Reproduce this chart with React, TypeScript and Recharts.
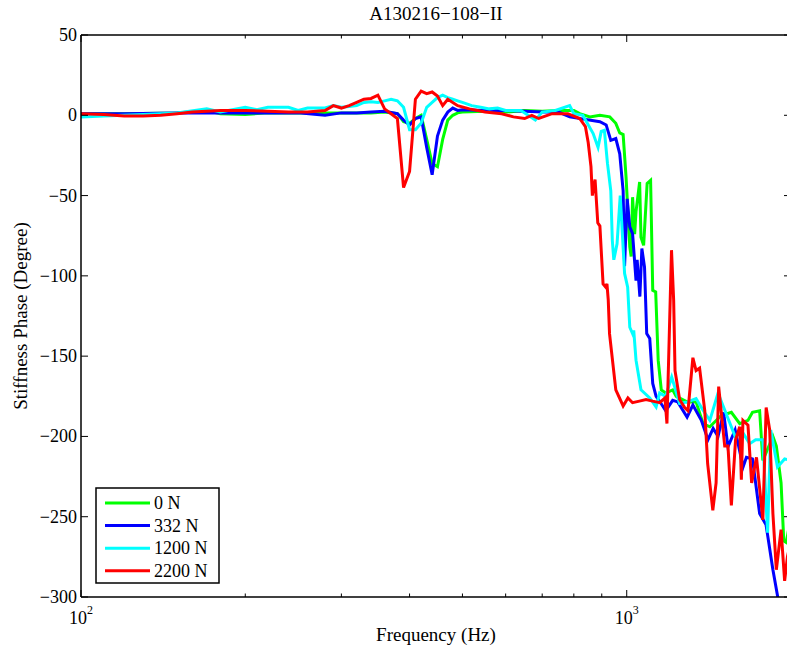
import React from 'react';
import { LineChart, Line, XAxis, YAxis, Legend } from 'recharts';

const FONT = '"Liberation Serif", "Times New Roman", serif';

// 0 N
const greenFreq = [100, 120, 150, 170, 180, 200, 220, 250, 280, 300, 320, 340, 360, 380, 390, 400, 410, 420, 430, 440, 450, 460, 470, 480, 490, 500, 550, 600, 650, 700, 750, 800, 820, 856, 893, 931, 955, 971, 985, 997, 1013, 1019, 1025, 1034, 1040, 1056, 1062, 1074, 1090, 1106, 1116, 1130, 1142, 1157, 1179, 1214, 1232, 1290, 1340, 1380, 1420, 1490, 1555, 1611, 1668, 1700, 1752, 1776, 1853, 1880, 1918, 1940, 1960, 2000];
const greenPhase = [1, 1, 1.5, 3, 1, 0.5, 1.5, 1.5, 1.5, 1.5, 1.5, 1.5, 2, 1, -4, -5, -2, 0, -15, -30, -32, -15, -3, 0, 1.5, 2, 2.5, 2, 3, 2.5, 3, 3, 1, -1, 0, -1, -5, -11, -12, -38, -82, -88, -51, -74, -60, -41.5, -76, -81, -42.5, -40.5, -109, -110, -152.5, -171, -173, -171, -175, -178.5, -178.5, -192, -194, -187, -185, -192, -190, -185, -184, -215, -200, -206, -229, -265, -266, -250];

// 332 N
const blueFreq = [100, 120, 150, 200, 250, 280, 300, 320, 340, 360, 380, 390, 400, 410, 420, 430, 440, 450, 460, 470, 480, 490, 500, 550, 600, 650, 700, 750, 786, 893, 917, 935, 955, 971, 985, 991, 1002, 1013, 1025, 1040, 1045, 1057, 1066, 1078, 1088, 1102, 1116, 1132, 1156, 1179, 1214, 1240, 1290, 1322, 1370, 1409, 1440, 1470, 1505, 1533, 1580, 1634, 1657, 1700, 1752, 1800, 1853, 1889, 1910];
const bluePhase = [1, 1, 1.5, 1.5, 1.5, 0, 1.5, 1.5, 2, 2.5, 1, -3, -6, -2, -1, -20, -37, -13, -3, 2, 4.5, 3, 3.5, 3, 3, 2.5, 2, 2, -1, -4, -6, -15.6, -14.5, -24, -47, -94, -52, -69.5, -73.7, -103, -90, -113, -83, -94.5, -136, -139, -167, -175, -179.5, -184, -177.5, -178.5, -188, -180.5, -190, -202, -195, -200, -185, -206.5, -196, -219, -213, -214, -248, -255, -283, -299, -310];

// 1200 N
const cyanFreq = [100, 110, 130, 150, 170, 180, 200, 210, 220, 240, 250, 260, 280, 290, 300, 310, 320, 330, 340, 350, 360, 370, 380, 390, 400, 410, 420, 430, 440, 450, 460, 470, 480, 490, 500, 520, 540, 560, 580, 600, 640, 680, 700, 740, 786, 800, 831, 868, 886, 898, 910, 922, 935, 941, 947, 960, 973, 991, 1004, 1013, 1025, 1030, 1040, 1062, 1102, 1132, 1149, 1179, 1209, 1219, 1250, 1293, 1340, 1380, 1420, 1470, 1522, 1580, 1634, 1680, 1723, 1776, 1812, 1836, 1889, 1947, 2000];
const cyanPhase = [-1, -0.5, 0.5, 1.5, 4, 2, 5, 3.5, 5, 5, 3, 4.5, 4.5, 6, 5, 5.5, 6, 8, 8.5, 8, 9, 10, 9, 5, -9, -9, -5, 5, 8, 11, 12.5, 11, 10, 9, 8, 6, 5, 4, 4.5, 3, 3, -3, 2, 3, 6, 1, 0, -11.4, -20, -10, -9.3, -30, -47, -78, -90, -80, -50, -98.5, -107, -132, -136, -134, -152.5, -171, -176, -181.6, -173, -175, -163, -167, -179.5, -178.5, -176.4, -183.7, -190, -173, -186, -200, -198, -204.5, -202, -202, -260, -196, -219, -214, -215];

// 2200 N
const redFreq = [100, 110, 120, 130, 140, 150, 160, 170, 180, 190, 200, 220, 240, 260, 280, 290, 300, 310, 320, 330, 340, 350, 360, 370, 380, 390, 400, 410, 420, 430, 440, 450, 460, 470, 490, 515, 550, 590, 620, 650, 670, 690, 730, 780, 820, 840, 850, 860, 865, 875, 885, 893, 905, 915, 920, 925, 930, 955, 985, 1005, 1025, 1055, 1085, 1115, 1150, 1175, 1185, 1208, 1219, 1226, 1250, 1277, 1295, 1322, 1340, 1360, 1390, 1407, 1438, 1458, 1474, 1512, 1533, 1555, 1583, 1611, 1622, 1633, 1668, 1694, 1729, 1776, 1801, 1828, 1853, 1880, 1918, 1947, 1970, 2000];
const redPhase = [1, 0.5, -0.5, -0.5, 0, 1, 2, 2.5, 3, 3, 3, 2.5, 2, 2, 3, 6, 4.5, 6, 8, 10, 10.5, 12.5, 4, 1, -2, -45, -35, 10, 15, 13.5, 14.5, 12, 6, 10, 6, 4, 2, 1, -1, -2, 0, -2, 1, 1, -2, -7, -17, -32, -50, -40, -67, -69, -105, -107, -105, -115, -136, -171, -181, -176, -179, -178, -177, -178, -179, -176, -192, -84, -115, -159, -177, -182, -184, -151, -159, -157.5, -184, -217, -246, -229, -169, -206, -206, -243, -202, -194, -227, -190, -193, -229, -213, -252, -182, -196, -248, -283, -258, -290, -275, -265];

const xTicks = [100, 200, 300, 400, 500, 600, 700, 800, 900, 1000, 2000];
const yTicks = [-300, -250, -200, -150, -100, -50, 0, 50];

const series = [
  { name: '0 N', color: '#00ff00', freq: greenFreq, phase: greenPhase },
  { name: '332 N', color: '#0000ff', freq: blueFreq, phase: bluePhase },
  { name: '1200 N', color: '#00ffff', freq: cyanFreq, phase: cyanPhase },
  { name: '2200 N', color: '#ff0000', freq: redFreq, phase: redPhase },
];

const isMajor = (v: number) => v === 100 || v === 1000;

const BottomTick = (props: any) => {
  const { x, y, payload } = props;
  const v = payload.value;
  return (
    <g>
      <line x1={x} y1={y} x2={x} y2={y - (isMajor(v) ? 7 : 3.5)} stroke="#000" strokeWidth={1} />
      {isMajor(v) && (
        <text x={x} y={y + 27} textAnchor="middle" fontFamily={FONT} fontSize={18} fill="#000">
          10<tspan dy={-10} fontSize={12}>{Math.round(Math.log10(v))}</tspan>
        </text>
      )}
    </g>
  );
};

const TopTick = (props: any) => {
  const { x, y, payload } = props;
  const v = payload.value;
  return <line x1={x} y1={y} x2={x} y2={y + (isMajor(v) ? 7 : 3.5)} stroke="#000" strokeWidth={1} />;
};

const LeftTick = (props: any) => {
  const { x, y, payload } = props;
  return (
    <g>
      <line x1={x} y1={y} x2={x + 7} y2={y} stroke="#000" strokeWidth={1} />
      <text x={x - 4} y={y + 6} textAnchor="end" fontFamily={FONT} fontSize={18} fill="#000">
        {String(payload.value).replace('-', '\u2212')}
      </text>
    </g>
  );
};

const RightTick = (props: any) => {
  const { x, y } = props;
  return <line x1={x} y1={y} x2={x - 7} y2={y} stroke="#000" strokeWidth={1} />;
};

const LegendBox = () => (
  <svg width={126} height={98} style={{ display: 'block' }}>
    <rect x={1} y={1} width={123} height={95} fill="#fff" stroke="#000" strokeWidth={1.5} />
    {series.map((s, i) => {
      const cy = 16 + i * 22.6;
      return (
        <g key={s.name}>
          <line x1={10} y1={cy} x2={55} y2={cy} stroke={s.color} strokeWidth={3} />
          <text x={59} y={cy + 6} fontFamily={FONT} fontSize={18} fill="#000">{s.name}</text>
        </g>
      );
    })}
  </svg>
);

const axisStroke = { stroke: '#000', strokeWidth: 1.5 };

export default function App() {
  return (
    <div style={{ position: 'absolute', left: 0, top: 0, width: 787, height: 652, overflow: 'hidden', background: '#fff' }}>
      <LineChart width={800} height={652} margin={{ top: 25, right: 4, bottom: 25, left: 21 }}>
        <XAxis
          xAxisId="b"
          dataKey="f"
          type="number"
          scale="log"
          domain={[100, 2000]}
          allowDataOverflow
          ticks={xTicks}
          interval={0}
          height={30}
          tickSize={0}
          tickMargin={0}
          tick={<BottomTick />}
          axisLine={axisStroke}
          tickLine={false}
        />
        <XAxis
          xAxisId="t"
          orientation="top"
          dataKey="f"
          type="number"
          scale="log"
          domain={[100, 2000]}
          allowDataOverflow
          ticks={xTicks}
          interval={0}
          height={10}
          tickSize={0}
          tickMargin={0}
          tick={<TopTick />}
          axisLine={axisStroke}
          tickLine={false}
        />
        <YAxis
          yAxisId="l"
          type="number"
          domain={[-300, 50]}
          allowDataOverflow
          ticks={yTicks}
          interval={0}
          width={60}
          tickSize={0}
          tickMargin={0}
          tick={<LeftTick />}
          axisLine={axisStroke}
          tickLine={false}
        />
        <YAxis
          yAxisId="r"
          orientation="right"
          type="number"
          domain={[-300, 50]}
          allowDataOverflow
          ticks={yTicks}
          interval={0}
          width={5}
          tickSize={0}
          tickMargin={0}
          tick={<RightTick />}
          axisLine={axisStroke}
          tickLine={false}
        />
        {series.map((s) => (
          <Line
            key={s.name}
            xAxisId="b"
            yAxisId="l"
            name={s.name}
            data={s.freq.map((f, i) => ({ f, v: s.phase[i] }))}
            dataKey="v"
            type="linear"
            stroke={s.color}
            strokeWidth={3}
            dot={false}
            activeDot={false}
            isAnimationActive={false}
          />
        ))}
        <Legend
          layout="vertical"
          align="center"
          verticalAlign="middle"
          content={<LegendBox />}
          wrapperStyle={{ position: 'absolute', left: 95, top: 487, width: 126, height: 98 }}
        />
      </LineChart>
      <svg width={787} height={652} style={{ position: 'absolute', left: 0, top: 0, pointerEvents: 'none' }}>
        <text x={436} y={20} textAnchor="middle" fontFamily={FONT} fontSize={19} fill="#000">A130216{'\u2212'}108{'\u2212'}II</text>
        <text x={436} y={641} textAnchor="middle" fontFamily={FONT} fontSize={19} fill="#000">Frequency (Hz)</text>
        <text x={0} y={0} transform="translate(27,316) rotate(-90)" textAnchor="middle" fontFamily={FONT} fontSize={19} fill="#000">Stiffness Phase (Degree)</text>
      </svg>
    </div>
  );
}
